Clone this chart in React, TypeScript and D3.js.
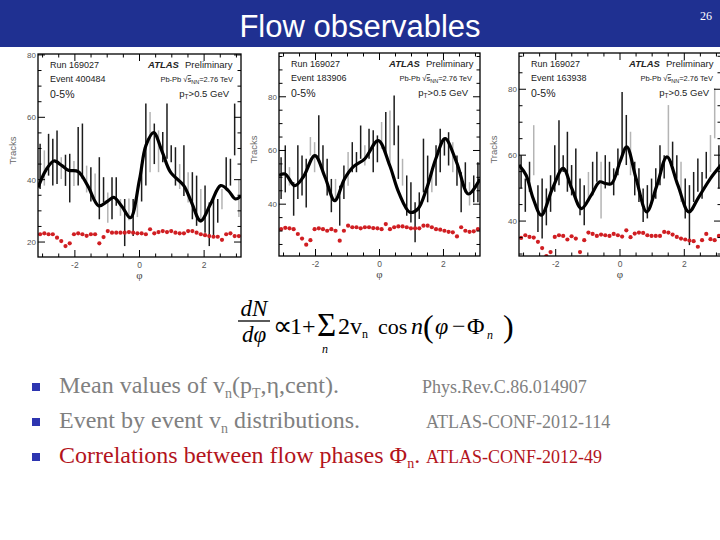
import * as d3 from 'd3';

const N_BINS = 48;
const PHI_DOMAIN = [-Math.PI, Math.PI];

// ---- panel 1 (event 400484) ----
const HI_1 = [51.5, 49.4, 54.7, 53.1, 55.8, 47.2, 48.0, 48.3, 46.0, 56.9, 58.0, 44.5, 44.0, 42.0, 47.2, 40.8, 35.9, 40.8, 40.8, 33.8, 33.8, 34.0, 33.8, 36.0, 45.0, 64.4, 61.7, 58.0, 55.8, 55.3, 64.4, 51.0, 50.4, 45.0, 51.0, 42.4, 42.4, 41.3, 37.0, 38.1, 32.7, 33.8, 33.8, 37.0, 47.2, 46.7, 64.4, 40.0];
const LO_1 = [37.0, 38.1, 41.3, 38.1, 38.6, 40.2, 38.0, 32.7, 38.0, 38.1, 40.2, 35.9, 33.0, 34.0, 27.3, 32.7, 26.2, 27.3, 31.6, 28.4, 18.7, 27.0, 21.9, 28.0, 33.0, 38.1, 42.4, 45.0, 42.4, 45.6, 46.7, 45.6, 38.1, 37.0, 34.8, 32.7, 27.3, 25.2, 26.2, 23.0, 18.7, 21.9, 26.2, 30.5, 37.0, 38.1, 47.8, 28.0];
const DARK_1 = [1, 0, 1, 1, 1, 0, 1, 1, 0, 1, 1, 0, 1, 0, 1, 1, 0, 1, 1, 0, 1, 0, 1, 0, 1, 1, 0, 1, 0, 1, 1, 1, 1, 0, 1, 0, 1, 1, 0, 1, 1, 1, 1, 0, 1, 1, 1, 0];
const RED_1 = [22.5, 22.8, 22.5, 22.5, 21.4, 20.3, 18.7, 19.6, 22.5, 22.8, 22.5, 22.0, 22.5, 22.5, 19.6, 21.6, 23.5, 23.0, 23.0, 23.0, 23.0, 23.2, 23.0, 22.8, 22.8, 22.5, 24.1, 22.8, 23.2, 23.5, 23.2, 23.5, 23.0, 22.8, 22.8, 23.5, 23.5, 23.0, 22.5, 22.2, 21.9, 21.7, 21.7, 20.7, 22.5, 22.8, 21.9, 21.9];
const CURVE_PHI_1 = [-3.14, -2.9, -2.65, -2.4, -2.2, -1.9, -1.6, -1.26, -1.0, -0.8, -0.55, -0.28, 0.0, 0.2, 0.44, 0.7, 0.96, 1.37, 1.6, 1.89, 2.2, 2.51, 2.75, 2.97, 3.14];
const CURVE_1 = [37.5, 43, 46, 44.5, 43, 42.6, 38, 31.6, 33, 34.3, 31.5, 27.8, 40, 51, 55.1, 49, 42.4, 38.1, 33, 26.8, 32.2, 38.1, 36.5, 33.8, 34.8];

// ---- panel 2 ----
const HI_2 = [57.5, 61.9, 53.8, 48.2, 61.9, 58.1, 56.9, 65.0, 63.1, 73.1, 61.9, 56.9, 49.4, 49.4, 46.9, 54.4, 59.4, 63.1, 59.4, 69.3, 61.9, 68.1, 67.5, 65.6, 70.6, 74.3, 74.9, 80.5, 69.3, 56.9, 50.7, 48.2, 40.7, 44.4, 64.4, 58.1, 51.9, 61.9, 68.1, 64.4, 66.8, 63.1, 58.1, 51.9, 55.6, 48.2, 50.7, 55.6];
const LO_2 = [41.9, 44.4, 46.9, 35.7, 41.9, 43.2, 38.8, 58.1, 51.9, 55.6, 51.9, 43.2, 37.0, 40.7, 32.0, 41.9, 46.9, 51.9, 51.9, 56.9, 54.4, 56.9, 51.9, 55.6, 60.6, 58.1, 55.6, 61.9, 49.4, 46.9, 35.7, 33.2, 25.8, 34.5, 44.4, 40.7, 44.4, 46.9, 51.9, 58.1, 54.4, 51.9, 46.9, 37.0, 44.4, 39.5, 40.7, 40.7];
const DARK_2 = [1, 1, 0, 1, 1, 1, 1, 0, 0, 1, 1, 1, 1, 0, 1, 1, 0, 1, 1, 1, 0, 1, 1, 1, 0, 1, 0, 1, 1, 0, 1, 1, 1, 1, 1, 1, 0, 1, 1, 1, 1, 0, 1, 1, 1, 0, 1, 1];
const RED_2 = [30.7, 31.2, 31.0, 30.7, 28.9, 27.2, 24.9, 26.6, 30.7, 31.0, 30.7, 30.1, 30.7, 30.1, 26.4, 30.1, 32.0, 31.4, 31.4, 31.0, 31.4, 31.4, 31.1, 31.0, 30.7, 32.6, 30.7, 31.4, 31.7, 31.7, 31.4, 31.0, 31.0, 31.0, 32.0, 32.0, 31.4, 30.7, 30.5, 30.1, 29.7, 29.5, 28.0, 31.4, 30.1, 29.7, 29.9, 30.7];
const CURVE_PHI_2 = [-3.14, -2.95, -2.65, -2.39, -2.02, -1.7, -1.40, -1.09, -0.83, -0.46, -0.04, 0.32, 0.6, 0.95, 1.2, 1.47, 1.76, 2.05, 2.41, 2.78, 3.14];
const CURVE_2 = [50.7, 51.2, 46.9, 50, 58.1, 50, 41.3, 49.5, 53.8, 56.9, 63.7, 54.4, 44.4, 37.0, 38.2, 45.7, 56.9, 64.4, 55.6, 43.8, 49.4];

// ---- panel 3 ----
const HI_3 = [60.0, 52.9, 58.0, 69.1, 50.9, 52.9, 49.9, 53.9, 63.0, 70.6, 60.0, 67.1, 57.0, 62.0, 52.9, 50.9, 54.9, 58.0, 61.0, 58.0, 60.0, 58.0, 56.0, 62.0, 79.2, 72.2, 67.1, 58.0, 56.0, 49.9, 50.9, 52.9, 56.0, 63.0, 60.0, 75.2, 64.1, 60.0, 58.0, 52.9, 50.9, 54.9, 59.0, 54.9, 61.0, 66.1, 80.3, 63.0];
const LO_3 = [49.9, 42.8, 48.9, 53.9, 36.7, 34.7, 38.7, 42.8, 48.9, 50.9, 54.9, 48.9, 47.8, 45.8, 41.8, 38.7, 45.8, 47.8, 51.9, 40.8, 49.9, 50.9, 47.8, 53.9, 60.0, 57.0, 53.9, 47.8, 45.8, 39.7, 40.8, 45.8, 46.8, 50.9, 52.9, 59.0, 57.0, 52.9, 45.8, 40.8, 32.7, 45.8, 48.9, 46.8, 52.9, 54.9, 65.1, 49.9];
const DARK_3 = [1, 1, 1, 0, 1, 1, 1, 1, 1, 1, 1, 1, 1, 1, 1, 1, 0, 1, 1, 0, 1, 1, 1, 1, 1, 1, 0, 1, 1, 1, 1, 1, 1, 1, 1, 0, 1, 1, 0, 1, 1, 1, 1, 1, 1, 0, 0, 1];
const RED_3 = [34.9, 35.7, 35.2, 35.0, 33.7, 31.8, 29.4, 30.6, 35.2, 35.7, 35.5, 34.4, 35.4, 34.7, 30.6, 34.2, 36.5, 36.1, 35.5, 35.9, 35.7, 35.5, 36.1, 35.7, 35.3, 37.2, 35.1, 36.2, 36.5, 36.4, 35.7, 35.5, 35.5, 35.5, 36.7, 36.5, 35.9, 35.2, 34.7, 34.4, 34.1, 33.9, 32.2, 34.2, 36.1, 34.5, 34.2, 35.5];
const CURVE_PHI_3 = [-3.14, -2.92, -2.7, -2.45, -2.1, -1.77, -1.5, -1.2, -0.9, -0.63, -0.45, -0.26, 0.0, 0.21, 0.5, 0.83, 1.15, 1.46, 1.8, 2.14, 2.45, 2.81, 3.14];
const CURVE_3 = [57.0, 53.9, 46.8, 41.8, 49.9, 56.0, 49.9, 43.8, 47.8, 51.9, 51.4, 51.4, 58.0, 62.5, 52.9, 42.8, 50.9, 59.5, 50.9, 42.8, 47.3, 52.9, 57.0];

const Y_DOMAINS = [[15.2, 80.3], [20.7, 96.3], [29.4, 91]];
const Y_TICK_LABELS = [[20, 40, 60, 80], [40, 60, 80], [40, 60, 80]];
const X_TICK_LABELS = [-2, 0, 2];
const EVENTS = ['Event 400484', 'Event 183906', 'Event 163938'];

const BULLETS = [
  { text: 'Mean values of v', sub: 'n', rest: '(p', sub2: 'T', rest2: ',η,cent).', ref: 'Phys.Rev.C.86.014907', color: '#808080' },
  { text: 'Event by event v', sub: 'n', rest: ' distributions.', sub2: '', rest2: '', ref: 'ATLAS-CONF-2012-114', color: '#808080' },
  { text: 'Correlations between flow phases Φ', sub: 'n', rest: '.', sub2: '', rest2: '', ref: 'ATLAS-CONF-2012-49', color: '#b3141c' },
];

const SANS = 'Liberation Sans, Arial, sans-serif';
const SERIF = 'Liberation Serif, Times New Roman, serif';

interface PanelProps {
  id: number;
  x0: number; x1: number; y0: number; y1: number;
  hi: number[]; lo: number[]; dark: number[]; red: number[];
  curvePhi: number[]; curve: number[];
}

function Panel({ id, x0, x1, y0, y1, hi, lo, dark, red, curvePhi, curve }: PanelProps) {
  const x = d3.scaleLinear().domain(PHI_DOMAIN).range([x0, x1]);
  const yd = Y_DOMAINS[id];
  const y = d3.scaleLinear().domain(yd).range([y1, y0]);
  const binW = (2 * Math.PI) / N_BINS;
  const centers = d3.range(N_BINS).map(i => -Math.PI + (i + 0.5) * binW);
  const line = d3.line<number>()
    .x((_, i) => x(curvePhi[i]))
    .y(d => y(d))
    .curve(d3.curveCatmullRom.alpha(0.5));
  const minorY = d3.range(Math.ceil(yd[0] / 5) * 5, yd[1], 5);
  const minorX = d3.range(-3, 3.01, 0.5);
  const clip = `clip-${id}`;

  return (
    <g>
      <clipPath id={clip}>
        <rect x={x0} y={y0} width={x1 - x0} height={y1 - y0} />
      </clipPath>
      <g clipPath={`url(#${clip})`}>
        {centers.map((c, i) => (
          <line key={i} x1={x(c)} x2={x(c)} y1={y(hi[i])} y2={y(lo[i])}
            stroke={dark[i] ? '#1c1c1c' : '#b4b4b4'} strokeWidth={1.5} />
        ))}
        <path d={line(curve) ?? ''} fill="none" stroke="#000" strokeWidth={3.2} />
        {centers.map((c, i) => (
          <circle key={i} cx={x(c)} cy={y(red[i])} r={2.1} fill="#d01e22" />
        ))}
      </g>
      <rect x={x0} y={y0} width={x1 - x0} height={y1 - y0} fill="none" stroke="#000" strokeWidth={1.3} />
      {minorY.map(v => {
        const major = v % 20 === 0;
        const len = major ? 7 : 3.5;
        return (
          <g key={v}>
            <line x1={x0} x2={x0 + len} y1={y(v)} y2={y(v)} stroke="#000" strokeWidth={1} />
            <line x1={x1} x2={x1 - len} y1={y(v)} y2={y(v)} stroke="#000" strokeWidth={1} />
          </g>
        );
      })}
      {minorX.map(v => {
        const major = Math.abs(v % 2) < 1e-6;
        const len = major ? 7 : 3.5;
        return (
          <g key={v}>
            <line x1={x(v)} x2={x(v)} y1={y1} y2={y1 - len} stroke="#000" strokeWidth={1} />
            <line x1={x(v)} x2={x(v)} y1={y0} y2={y0 + len} stroke="#000" strokeWidth={1} />
          </g>
        );
      })}
      {Y_TICK_LABELS[id].map(v => (
        <text key={v} x={x0 - 2} y={y(v) + 3} textAnchor="end" fontSize={8} fontFamily={SANS} fill="#555">{v}</text>
      ))}
      {X_TICK_LABELS.map(v => (
        <text key={v} x={x(v)} y={y1 + 11} textAnchor="middle" fontSize={8.5} fontFamily={SANS} fill="#555">{v}</text>
      ))}
      <text x={x(0)} y={y1 + 22} textAnchor="middle" fontSize={11} fontFamily={SERIF} fill="#444">φ</text>
      <text transform={`translate(${x0 - 22},${(y0 + y1) / 2 - 5}) rotate(-90)`} textAnchor="middle"
        fontSize={9.5} fontFamily={SANS} fill="#666">Tracks</text>
      <g fontFamily={SANS} fill="#222">
        <text x={x0 + 12} y={y0 + 14} fontSize={9}>Run 169027</text>
        <text x={x0 + 12} y={y0 + 28} fontSize={9}>{EVENTS[id]}</text>
        <text x={x0 + 12} y={y0 + 44} fontSize={10.5}>0-5%</text>
        <text x={x0 + 110} y={y0 + 14} fontSize={9.5} fontWeight="bold" fontStyle="italic">ATLAS</text>
        <text x={x0 + 147} y={y0 + 14} fontSize={9.5}>Preliminary</text>
        <text x={x1 - 8} y={y0 + 28} fontSize={7.5} textAnchor="end">
          Pb-Pb √<tspan textDecoration="overline">s</tspan><tspan fontSize={5.5} dy={2}>NN</tspan><tspan dy={-2}>=2.76 TeV</tspan>
        </text>
        <text x={x1 - 12} y={y0 + 43} fontSize={9.5} textAnchor="end">
          p<tspan fontSize={6.5} dy={2}>T</tspan><tspan dy={-2}>&gt;0.5 GeV</tspan>
        </text>
      </g>
    </g>
  );
}

export default function App() {
  return (
    <svg width={720} height={540} style={{ position: 'absolute', left: 0, top: 0, background: '#fff' }}>
      <rect x={0} y={0} width={720} height={540} fill="#fff" />
      <rect x={0} y={0} width={720} height={47} fill="#1f3091" />
      <text x={360} y={37} textAnchor="middle" fill="#fff" fontSize={31} fontFamily={SANS}>Flow observables</text>
      <text x={706} y={20} textAnchor="middle" fill="#fff" fontSize={12} fontFamily={SERIF}>26</text>

      <Panel id={0} x0={38} x1={241} y0={54} y1={257} hi={HI_1} lo={LO_1} dark={DARK_1} red={RED_1} curvePhi={CURVE_PHI_1} curve={CURVE_1} />
      <Panel id={1} x0={279} x1={480} y0={53} y1={256} hi={HI_2} lo={LO_2} dark={DARK_2} red={RED_2} curvePhi={CURVE_PHI_2} curve={CURVE_2} />
      <Panel id={2} x0={519} x1={721} y0={53} y1={256} hi={HI_3} lo={LO_3} dark={DARK_3} red={RED_3} curvePhi={CURVE_PHI_3} curve={CURVE_3} />

      {/* formula */}
      <g fontFamily={SERIF} fill="#000">
        <text x={254} y={316} fontSize={23} fontStyle="italic" textAnchor="middle">dN</text>
        <line x1={238} x2={270} y1={321} y2={321} stroke="#000" strokeWidth={1.3} />
        <text x={254} y={342} fontSize={23} fontStyle="italic" textAnchor="middle">dφ</text>
        <text x={273} y={335} fontSize={27}>∝</text>
        <text x={290} y={334} fontSize={24}>1+</text>
        <text x={317} y={336} fontSize={33}>Σ</text>
        <text x={322} y={353} fontSize={12} fontStyle="italic">n</text>
        <text x={338} y={334} fontSize={24}>2v<tspan fontSize={12} dy={4}>n</tspan></text>
        <text x={378} y={334} fontSize={22}>cos</text>
        <text x={411} y={334} fontSize={24} fontStyle="italic">n</text>
        <text x={423} y={337} fontSize={32}>(</text>
        <text x={435} y={334} fontSize={24} fontStyle="italic">φ</text>
        <text x={452} y={334} fontSize={24}>−</text>
        <text x={467} y={334} fontSize={24}>Φ</text>
        <text x={487} y={339} fontSize={12} fontStyle="italic">n</text>
        <text x={503} y={337} fontSize={32}>)</text>
      </g>

      {/* bullet list */}
      {BULLETS.map((b, i) => {
        const base = 393 + i * 35;
        return (
          <g key={i}>
            <rect x={32} y={base - 10} width={8} height={8} fill="#2d35b0" />
            <text x={59} y={base} fontSize={24} fontFamily={SERIF} fill={b.color}>
              {b.text}<tspan fontSize={14} dy={5}>{b.sub}</tspan>
              <tspan dy={-5}>{b.rest}</tspan>
              {b.sub2 && <tspan fontSize={14} dy={5}>{b.sub2}</tspan>}
              {b.sub2 && <tspan dy={-5}>{b.rest2}</tspan>}
            </text>
            <text x={i === 0 ? 422 : 426} y={base} fontSize={18} fontFamily={SERIF} fill={b.color}>{b.ref}</text>
          </g>
        );
      })}
    </svg>
  );
}
